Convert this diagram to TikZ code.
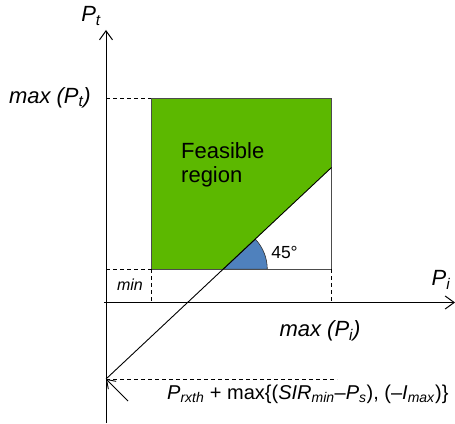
\documentclass[tikz,border=0pt]{standalone}
\usepackage{fontspec}
\setmainfont{Liberation Sans}
\usepackage{xcolor}
\definecolor{feasgreen}{HTML}{5CB800}
\definecolor{anglblue}{HTML}{4F81BD}
\usetikzlibrary{arrows.meta}

\begin{document}
\begin{tikzpicture}[x=1pt, y=1pt,
    lbl/.style={inner sep=0pt, font=\fontsize{22}{24}\selectfont},
    ax/.style={-{Straight Barb[length=9pt, width=13pt]}, line width=1pt},
    dsh/.style={dashed, dash pattern=on 4pt off 3pt, line width=0.9pt},
    edge/.style={line width=0.9pt}]
  \useasboundingbox (0,0) rectangle (455,423);
  \coordinate (ybot) at (106,0);
  \coordinate (ytop) at (106,393);
  \coordinate (xbeg) at (104,120.5);
  \coordinate (xend) at (455,120.5);
  \coordinate (tl) at (151,324.5);
  \coordinate (tr) at (331.5,324.5);
  \coordinate (bl) at (151,153.7);
  \coordinate (br) at (331.5,153.7);
  \coordinate (cut) at (223.3,153.7);
  \coordinate (dstart) at (106,44);
  \coordinate (dend) at (331.5,255.5);
  \coordinate (dlim) at (337,44);
  \coordinate (ymax) at (106,324.5);
  \coordinate (ymin) at (106,153.7);
  \coordinate (xmin) at (151,120.5);
  \coordinate (xmax) at (331.5,120.5);
  \coordinate (tail) at (128,22);
  \fill[feasgreen] (tl) -- (tr) -- (dend) -- (cut) -- (bl) -- cycle;
  \fill[anglblue, draw=black!80, line width=0.6pt] (cut) -- ++(44,0) arc[start angle=0, end angle=43.1, radius=44] -- cycle;
  \draw[edge, draw=black!70] (bl) -- (tl) -- (tr) -- (br) -- (bl);
  \draw[edge] (dstart) -- (dend);
  \draw[dsh] (ymax) -- (tl);
  \draw[dsh] (ymin) -- (bl);
  \draw[dsh] (bl) -- (xmin);
  \draw[dsh] (br) -- (xmax);
  \draw[dsh] (dstart) -- (dlim);
  \draw[ax] (ybot) -- (ytop);
  \draw[ax] (xbeg) -- (xend);
  \draw[-{Straight Barb[length=8pt, width=11pt]}, line width=0.9pt] (tail) -- (dstart);
  \node[lbl] (pt) at (91,407) {\itshape P\textsubscript{t}};
  \node[lbl] (pi) at (441,143) {\itshape P\textsubscript{i}};
  \node[lbl, anchor=east] (maxpt) at (91,325) {\itshape max (P\textsubscript{t})};
  \node[lbl] (maxpi) at (320,92) {\itshape max (P\textsubscript{i})};
  \node[lbl, anchor=west, align=left] (feas) at (181,258) {Feasible\\region};
  \node[lbl, font=\fontsize{16}{18}\selectfont\itshape] (minlbl) at (130,138) {min};
  \node[lbl, font=\fontsize{17.5}{20}\selectfont] (ang) at (284.5,171) {45°};
  \node[lbl, anchor=west, font=\fontsize{20}{22}\selectfont] (bound) at (167,29) {\textit{P}\textsubscript{\textit{rxth}} + max\{(\textit{SIR}\textsubscript{\textit{min}}–\textit{P}\textsubscript{\textit{s}}), (–\textit{I}\textsubscript{\textit{max}})\}};
\end{tikzpicture}
\end{document}
